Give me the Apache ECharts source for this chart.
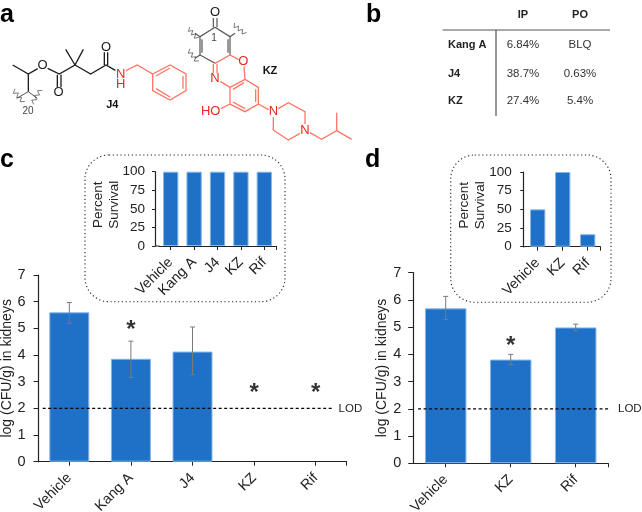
<!DOCTYPE html>
<html><head><meta charset="utf-8">
<style>html,body{margin:0;padding:0;background:#fff}#c{width:642px;height:512px}</style>
<script src="https://cdn.jsdelivr.net/npm/echarts@6/dist/echarts.min.js"></script>
</head><body><div id="c"></div>
<script>
// ---- data ----
const cCats = ['Vehicle','Kang A','J4','KZ','Rif'];
const cValues = [5.6,3.86,4.13,null,null];
const cErrLow = [5.19,3.16,3.26,null,null];
const cErrHigh = [5.97,4.52,5.05,null,null];
const cStars = [null,5.07,null,2.7,2.7];
const cSurvival = [100,100,100,100,100];
const dCats = ['Vehicle','KZ','Rif'];
const dValues = [5.69,3.81,4.99];
const dErrLow = [5.28,3.62,4.86];
const dErrHigh = [6.13,4.0,5.11];
const dStars = [null,4.45,null];
const dSurvival = [50,100,16.7];
const lodValue = 2;
const tableCols = ['IP','PO'];
const tableRows = ['Kang A','J4','KZ'];
const tableIP = ['6.84%','38.7%','27.4%'];
const tablePO = ['BLQ','0.63%','5.4%'];

const FONT = '"Liberation Sans", Arial, sans-serif';
const BLUE = '#1f71c8', EDGE = '#86b6ea', INK = '#222';

// ---- decoration: chemical structure (zoom-crop coordinates / 3) ----
const BK = '#1a1a1a', DG = '#555', SA = '#ff7566', RD = '#e8261b';
const blackBonds = [
 [38,195,85,222,113,206],[85,222,85,275],[143,205,178,222,225,195,197,148],[225,195,250,148],
 [172,224,172,262],[183,224,183,262],[225,195,272,222,318,195,346,211],[313,195,313,157],[323,195,323,157]];
const greyBonds = [
 [645,82,690,110,690,165],[645,82,600,110,600,165,645,190],[640,82,640,54],[651,82,651,54],
 [606,118,606,158],[684,118,684,158],[600,110,585,100],[690,110,705,100],[600,165,585,175]];
const salmonBonds = [
 [378,212,412,195,458,222,510,195,558,222,558,272,510,300,458,272,458,222],
 [468,228,510,204],[549,228,549,266],[468,266,510,291],
 [645,190,690,165,716,179],[640,192,640,220],[651,192,651,220],
 [732,200,735,238,775,262,775,312,735,335,690,312,690,262,735,238],[690,262,661,244],
 [767,268,767,306],[735,326,699,306],[699,268,732,248],
 [690,312,663,326],[775,312,806,329],
 [835,326,865,308,915,335,915,372],[820,352,820,390,865,420,900,400],
 [930,398,965,418,1010,392,1010,338],[1010,392,1055,418]];
const squiggles = [[40,270,70,308],[122,268,96,310],[565,85,592,116],[565,150,592,186],[700,74,736,102]];
const atoms = [
 ['O',128,195,BK],['O',176,278,BK],['O',318,142,BK],['N',362,222,RD],['H',362,252,RD],
 ['O',645,37,BK],['O',730,185,RD],['N',645,235,RD],['HO',632,333,RD],['N',820,335,RD],['N',915,390,RD]];
const labelsBold = [['J4',337,315],['KZ',810,212]];
const labelsThin = [['20',84,335,10],['1',642,115,10]];

function line3(p, color, w){
  const pts=[]; for(let i=0;i<p.length;i+=2) pts.push([p[i]/3,p[i+1]/3]);
  return {type:'polyline',silent:true,shape:{points:pts},style:{stroke:color,fill:null,lineWidth:w||1}};
}
function squig(a){
  const [x1,y1,x2,y2]=a, n=6, dx=x2-x1, dy=y2-y1, L=Math.hypot(dx,dy), nx=-dy/L, ny=dx/L, pts=[];
  for(let i=0;i<=n;i++){const s=(i%2?1:-1)*6; pts.push(x1+dx*i/n+nx*s, y1+dy*i/n+ny*s);}
  return line3(pts,'#444',0.7);
}
function txt(s,x,y,size,color,weight,align){
  return {type:'text',silent:true,x:x,y:y,style:{text:s,fontFamily:FONT,fontSize:size,fill:color||INK,fontWeight:weight||'normal',textAlign:align||'center',textVerticalAlign:'middle'}};
}
const g = [];
blackBonds.forEach(p=>g.push(line3(p,BK,1.3)));
greyBonds.forEach(p=>g.push(line3(p,DG,1.2)));
salmonBonds.forEach(p=>g.push(line3(p,SA,1.3)));
squiggles.forEach(a=>g.push(squig(a)));
g.push(line3([85,275,50,295],'#555',1),line3([85,275,112,295],'#555',1));
atoms.forEach(a=>g.push(txt(a[0],a[1]/3,a[2]/3,13,a[3])));
labelsBold.forEach(a=>g.push(txt(a[0],a[1]/3,a[2]/3,11,'#111','bold')));
labelsThin.forEach(a=>g.push(txt(a[0],a[1]/3,a[2]/3,a[3],'#444')));
// panel letters
[['a',0,15],['b',366,15],['c',0,160],['d',365,160]].forEach(a=>g.push(txt(a[0],a[1],a[2],25,'#000','bold','left')));
// table
g.push({type:'line',silent:true,shape:{x1:442.7,y1:30,x2:610,y2:30},style:{stroke:'#555',lineWidth:1.2}});
g.push({type:'line',silent:true,shape:{x1:496,y1:30,x2:496,y2:116},style:{stroke:'#555',lineWidth:1.2}});
const colX=[523,580], rowY=[45,74,101];
tableCols.forEach((s,i)=>g.push(txt(s,colX[i],15,11,'#222','bold')));
tableRows.forEach((s,i)=>{
  g.push(txt(s,448,rowY[i],11,'#222','bold','left'));
  g.push(txt(tableIP[i],colX[0],rowY[i],11.5,'#333'));
  g.push(txt(tablePO[i],colX[1],rowY[i],11.5,'#333'));
});
// dotted inset frames
[[85,155,200,146.7],[450.7,155,160.3,147.3]].forEach(r=>g.push({type:'rect',silent:true,z:-1,
  shape:{x:r[0],y:r[1],width:r[2],height:r[3],r:24},style:{fill:'#fff',stroke:'#222',lineWidth:1.1,lineDash:[1.2,2.6]}}));
// inset x-axis stubs from the offset y axis
g.push({type:'line',silent:true,shape:{x1:155,y1:246,x2:159.5,y2:246},style:{stroke:INK,lineWidth:1}});
g.push({type:'line',silent:true,shape:{x1:523.3,y1:246.7,x2:525.5,y2:246.7},style:{stroke:INK,lineWidth:1}});

// ---- charts ----
const panels = [
 {rect:[38.5,275,308,186.7],cats:cCats,vals:cValues,lo:cErrLow,hi:cErrHigh,stars:cStars,bw:40,max:7,interval:1,name:'log (CFU/g) in kidneys',nameGap:23.5,lod:[0.0136,0.958],lodGap:5,tick:5,margin:13,size:14.5,nameSize:14},
 {rect:[413.2,272.7,195,190.6],cats:dCats,vals:dValues,lo:dErrLow,hi:dErrHigh,stars:dStars,bw:41.5,max:7,interval:1,name:'log (CFU/g) in kidneys',nameGap:23.5,lod:[0.025,1.018],lodGap:8,tick:5,margin:12,size:14.5,nameSize:14},
 {rect:[159,171.7,117,74.3],cats:cCats,vals:cSurvival,bw:15.3,max:100,interval:25,name:'Percent\nSurvival',nameGap:33,off:4,tick:3,margin:10,size:13.5,nameSize:13.5,namePad:[0,0,0,8]},
 {rect:[525.2,172,75,74.7],cats:dCats,vals:dSurvival,bw:15.3,max:100,interval:25,name:'Percent\nSurvival',nameGap:34.5,off:2,tick:3,margin:11.5,size:13.5,nameSize:13.5,namePad:[0,0,0,8]}
];
const grid=[],xAxis=[],yAxis=[],series=[];
const axisLine={show:true,onZero:false,lineStyle:{color:INK,width:1.2}};
panels.forEach((p,i)=>{
  const xi=xAxis.length, yi=yAxis.length;
  grid.push({left:p.rect[0],top:p.rect[1],width:p.rect[2],height:p.rect[3],outerBoundsMode:'none'});
  xAxis.push({type:'category',gridIndex:i,data:p.cats,axisLine:axisLine,
    axisTick:{show:true,alignWithLabel:true,length:4,lineStyle:{color:INK}},
    axisLabel:{interval:0,rotate:45,color:INK,fontFamily:FONT,fontSize:14.3,margin:14}});
  // hidden unit axis: closing tick at the right end, and x extent of the LOD line
  xAxis.push({type:'value',gridIndex:i,min:0,max:1,position:'bottom',splitLine:{show:false},
    axisLine:{show:false},axisLabel:{show:false},
    axisTick:{show:true,length:4,lineStyle:{color:INK},customValues:[1]}});
  yAxis.push({type:'value',gridIndex:i,min:0,max:p.max,interval:p.interval,offset:p.off||0,
    name:p.name,nameLocation:'middle',nameGap:p.nameGap,nameRotate:90,nameMoveOverlap:false,
    nameTextStyle:{color:INK,fontFamily:FONT,fontSize:p.nameSize,lineHeight:16,padding:p.namePad||0},
    axisLine:axisLine,axisTick:{show:true,length:p.tick,lineStyle:{color:INK}},splitLine:{show:false},
    axisLabel:{color:INK,fontFamily:FONT,fontSize:p.size,margin:p.margin}});
  series.push({type:'bar',xAxisIndex:xi,yAxisIndex:yi,data:p.vals,barWidth:p.bw,animation:false,
    itemStyle:{color:BLUE,borderColor:EDGE,borderWidth:1}});
  if(p.lo){
    series.push({type:'custom',xAxisIndex:xi,yAxisIndex:yi,animation:false,z:5,
      data:p.cats.map((c,k)=>[k,p.lo[k],p.hi[k]]).filter(d=>d[1]!=null),
      renderItem:(params,api)=>{
        const a=api.coord([api.value(0),api.value(1)]), b=api.coord([api.value(0),api.value(2)]), st={stroke:'#7a7a7a',lineWidth:1};
        return {type:'group',children:[
          {type:'line',shape:{x1:a[0],y1:a[1],x2:b[0],y2:b[1]},style:st},
          {type:'line',shape:{x1:a[0]-2.5,y1:a[1],x2:a[0]+2.5,y2:a[1]},style:st},
          {type:'line',shape:{x1:b[0]-2.5,y1:b[1],x2:b[0]+2.5,y2:b[1]},style:st}]};
      }});
    series.push({type:'scatter',xAxisIndex:xi,yAxisIndex:yi,animation:false,z:6,symbolSize:1,
      itemStyle:{color:'rgba(0,0,0,0)'},
      data:p.cats.map((c,k)=>[c,p.stars[k]]).filter(d=>d[1]!=null),
      label:{show:true,position:'inside',formatter:'*',fontFamily:FONT,fontWeight:'bold',fontSize:24,color:'#000',offset:[0,4]}});
    series.push({type:'line',xAxisIndex:xi+1,yAxisIndex:yi,animation:false,z:7,clip:false,showSymbol:false,
      data:[[p.lod[0],lodValue],[p.lod[1],lodValue]],
      lineStyle:{color:'#000',width:1.1,type:[3,2.5]},
      endLabel:{show:true,formatter:'LOD',fontFamily:FONT,fontSize:11.5,color:INK,distance:p.lodGap}});
  }
});
const chart = echarts.init(document.getElementById('c'));
chart.setOption({backgroundColor:'#fff',animation:false,grid,xAxis,yAxis,series,graphic:{elements:g}});
</script></body></html>
